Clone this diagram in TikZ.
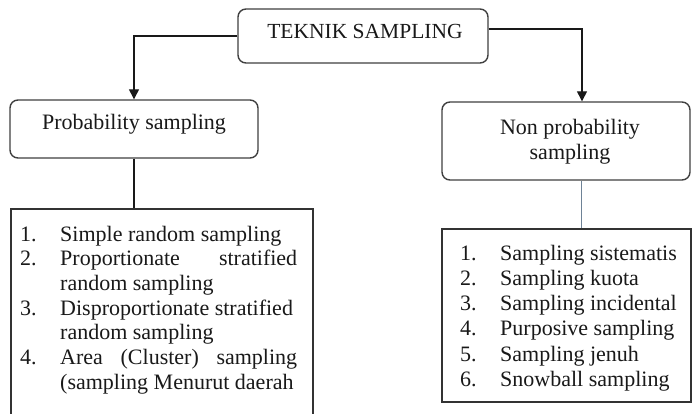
\documentclass[tikz,border=0pt]{standalone}
\usepackage{fontspec}
\setmainfont{Liberation Serif}
\usetikzlibrary{arrows.meta}
\begin{document}
\begin{tikzpicture}[x=1pt,y=-1pt,
  rbox/.style={draw=black!75, line width=1.4pt, rounded corners=8pt, inner sep=0pt},
  lbox/.style={draw=black!80, line width=1.2pt, inner sep=0pt},
  txt/.style={inner sep=0pt, anchor=base, text=black!90, font=\fontsize{22}{25}\selectfont},
  itm/.style={inner sep=0pt, anchor=base west, text=black!90, font=\fontsize{22}{25}\selectfont},
  conn/.style={line width=1.3pt, draw=black!90},
  connblue/.style={line width=0.9pt, draw={rgb,255:red,110;green,130;blue,150}},
  tip/.style={-{Triangle[length=10pt,width=10pt]}}
]
\clip (0,0) rectangle (692,413);
\fill[white] (0,0) rectangle (692,413);

% boxes
\node[rbox, minimum width=250pt, minimum height=54pt] (top) at (363,36) {};
\node[rbox, minimum width=248pt, minimum height=58pt] (prob) at (134,129) {};
\node[rbox, minimum width=248pt, minimum height=78pt] (nonprob) at (566,141) {};
\node[lbox, minimum width=302pt, minimum height=231pt] (llist) at (162,324.5) {};
\node[lbox, minimum width=249pt, minimum height=173pt] (rlist) at (566.5,315.5) {};

% box texts
\node[txt, font=\fontsize{21.5}{25}\selectfont] (ttop) at (365,38) {TEKNIK SAMPLING};
\node[txt] (tprob) at (134,129) {Probability sampling};
\node[txt] (tnp1) at (570,134) {Non probability};
\node[txt] (tnp2) at (570,159) {sampling};

% connectors
\draw[conn,tip] (top.west) -| (prob.north);
\draw[conn,tip] ([yshift=7pt]top.east) -| ([xshift=16pt]nonprob.north);
\draw[conn] (prob.south) -- (prob.south |- llist.north);
\draw[connblue] ([xshift=15pt]nonprob.south) -- ([xshift=15pt]nonprob.south |- rlist.north);

% left list
\node[itm] (ln1) at (20,241) {1.};
\node[itm] (lt1) at (60,241) {Simple random sampling};
\node[itm] (ln2) at (20,265.7) {2.};
\node[itm] (lt2) at (60,265.7) {\makebox[237pt][s]{Proportionate stratified}};
\node[itm] (lt2b) at (60,290.4) {random sampling};
\node[itm] (ln3) at (20,315.1) {3.};
\node[itm] (lt3) at (60,315.1) {Disproportionate stratified};
\node[itm] (lt3b) at (60,339.8) {random sampling};
\node[itm] (ln4) at (20,364.5) {4.};
\node[itm] (lt4) at (60,364.5) {\makebox[237pt][s]{Area (Cluster) sampling}};
\node[itm] (lt4b) at (60,389.2) {(sampling Menurut daerah};

% right list
\node[itm] (rn1) at (460,260) {1.};
\node[itm] (rt1) at (500,260) {Sampling sistematis};
\node[itm] (rn2) at (460,285.3) {2.};
\node[itm] (rt2) at (500,285.3) {Sampling kuota};
\node[itm] (rn3) at (460,310.6) {3.};
\node[itm] (rt3) at (500,310.6) {Sampling incidental};
\node[itm] (rn4) at (460,335.9) {4.};
\node[itm] (rt4) at (500,335.9) {Purposive sampling};
\node[itm] (rn5) at (460,361.2) {5.};
\node[itm] (rt5) at (500,361.2) {Sampling jenuh};
\node[itm] (rn6) at (460,386.5) {6.};
\node[itm] (rt6) at (500,386.5) {Snowball sampling};
\end{tikzpicture}
\end{document}
